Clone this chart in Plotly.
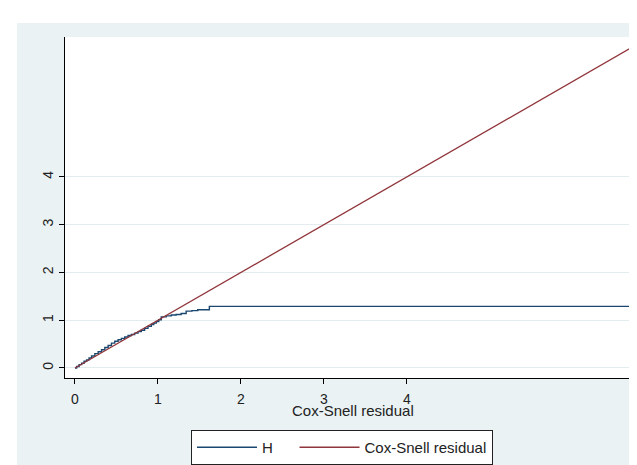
import plotly.graph_objects as go

# Nelson-Aalen cumulative hazard (H) of Cox-Snell residuals (step function)
cs_resid = [0.00, 0.02, 0.05, 0.08, 0.11, 0.14, 0.17, 0.20, 0.24, 0.28, 0.32,
            0.36, 0.40, 0.44, 0.48, 0.52, 0.56, 0.60, 0.64, 0.68, 0.72, 0.76,
            0.80, 0.84, 0.88, 0.92, 0.95, 0.98, 1.01, 1.04, 1.10, 1.16, 1.22,
            1.28, 1.34, 1.41, 1.48, 1.62, 6.72]
H = [0.00, 0.03, 0.07, 0.10, 0.14, 0.17, 0.21, 0.25, 0.30, 0.34, 0.38,
     0.43, 0.47, 0.52, 0.56, 0.59, 0.62, 0.65, 0.68, 0.70, 0.73, 0.76,
     0.79, 0.83, 0.87, 0.91, 0.94, 0.97, 1.01, 1.07, 1.09, 1.11, 1.12,
     1.14, 1.19, 1.20, 1.22, 1.29, 1.29]

# reference line: Cox-Snell residual against itself
ref_x = [0.0, 6.72]
ref_y = [0.0, 6.72]

x_ticks = [0, 1, 2, 3, 4]
y_ticks = [0, 1, 2, 3, 4]
x_title = "Cox-Snell residual"

NAVY = "#1A476F"
MAROON = "#90353B"
BG = "#EAF2F3"
FONT = "Liberation Sans, Arial, sans-serif"
NBSP = "\u00a0"

fig = go.Figure()
fig.add_trace(go.Scatter(x=cs_resid, y=H, mode="lines", name="H" + NBSP * 4,
                         line=dict(color=NAVY, width=1.4, shape="hv")))
fig.add_trace(go.Scatter(x=ref_x, y=ref_y, mode="lines", name="Cox-Snell residual",
                         line=dict(color=MAROON, width=1.3)))

W, Hh = 637, 465
ml, mr, mt, mb = 57, 5, 29, 95
pw = W - ml - mr
ph = Hh - mt - mb

def px(xp):
    return (xp - ml) / pw

def py(yp):
    return (Hh - mb - yp) / ph

fig.update_layout(
    width=W, height=Hh,
    margin=dict(l=ml, r=mr, t=mt, b=mb, autoexpand=False),
    paper_bgcolor=BG,
    plot_bgcolor="white",
    font=dict(family=FONT, size=14, color="#222222"),
    showlegend=True,
    legend=dict(orientation="h", x=px(183), y=py(422), xanchor="left", yanchor="top",
                bgcolor="white", bordercolor="#222222", borderwidth=1,
                font=dict(size=15, family=FONT), itemwidth=60,
                tracegroupgap=0),
    shapes=[
        dict(type="rect", xref="paper", yref="paper", layer="below",
             x0=px(0), x1=px(W), y0=py(0), y1=py(15),
             fillcolor="white", line=dict(width=0)),
        dict(type="rect", xref="paper", yref="paper", layer="below",
             x0=px(0), x1=px(9), y0=py(0), y1=py(Hh),
             fillcolor="white", line=dict(width=0)),
    ],
    annotations=[
        dict(text=x_title, xref="paper", yref="paper", x=0.5, y=py(403),
             xanchor="center", yanchor="middle", showarrow=False,
             font=dict(size=15, family=FONT, color="#222222")),
    ],
    xaxis=dict(range=[-0.12, 6.81], tickvals=x_ticks, ticktext=[str(v) for v in x_ticks],
               showgrid=False, zeroline=False, showline=True, linecolor="black", linewidth=1.2,
               ticks="outside", ticklen=5, tickcolor="black", ticklabelstandoff=3,
               tickfont=dict(size=14, family=FONT), automargin=False),
    yaxis=dict(range=[-0.21, 6.93], tickvals=y_ticks, ticktext=[str(v) for v in y_ticks],
               showgrid=True, gridcolor="#E3EDEF", gridwidth=1, zeroline=False,
               showline=True, linecolor="black", linewidth=1.2,
               ticks="outside", ticklen=5, tickcolor="black", tickangle=-90,
               tickfont=dict(size=14, family=FONT), automargin=False),
)

fig.write_html("out.html")
